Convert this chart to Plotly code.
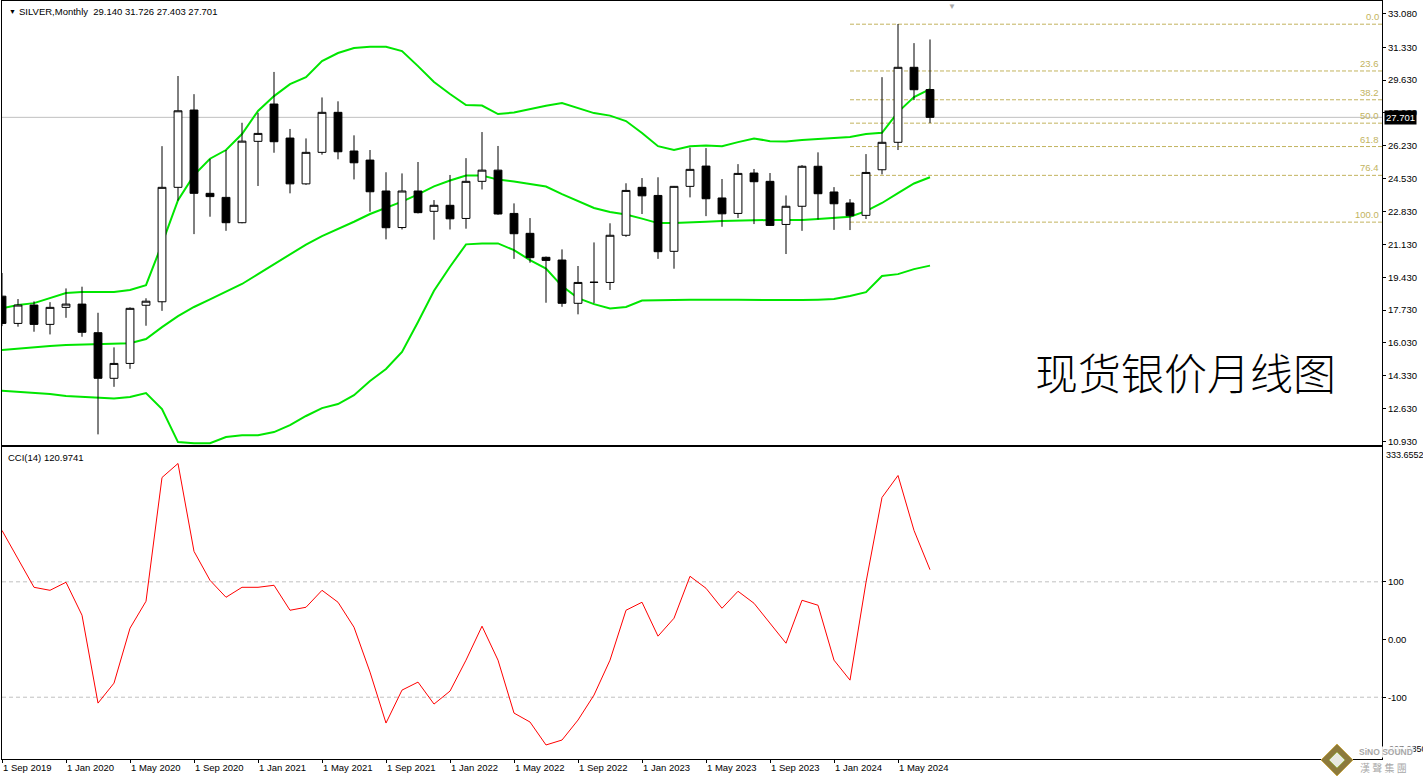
import plotly.graph_objects as go

# ---------------- data ----------------
months = ["2019-09", "2019-10", "2019-11", "2019-12",
          "2020-01", "2020-02", "2020-03", "2020-04", "2020-05", "2020-06",
          "2020-07", "2020-08", "2020-09", "2020-10", "2020-11", "2020-12",
          "2021-01", "2021-02", "2021-03", "2021-04", "2021-05", "2021-06",
          "2021-07", "2021-08", "2021-09", "2021-10", "2021-11", "2021-12",
          "2022-01", "2022-02", "2022-03", "2022-04", "2022-05", "2022-06",
          "2022-07", "2022-08", "2022-09", "2022-10", "2022-11", "2022-12",
          "2023-01", "2023-02", "2023-03", "2023-04", "2023-05", "2023-06",
          "2023-07", "2023-08", "2023-09", "2023-10", "2023-11", "2023-12",
          "2024-01", "2024-02", "2024-03", "2024-04", "2024-05", "2024-06",
          "2024-07"]

open_ = [18.45, 17.04, 17.99, 16.99, 17.87, 18.04, 16.56, 14.20, 14.97, 17.98,
         18.16, 24.08, 28.08, 23.77, 23.56, 22.25, 26.46, 28.39, 26.63, 24.26,
         25.89, 27.96, 25.96, 25.49, 23.89, 22.00, 23.89, 22.84, 23.15, 22.47,
         24.39, 24.97, 22.73, 21.70, 20.46, 20.32, 18.08, 19.16, 19.16, 21.60,
         24.08, 23.66, 20.77, 24.13, 25.18, 23.53, 22.73, 24.82, 24.39, 22.16,
         23.10, 25.17, 23.84, 23.27, 22.63, 24.99, 26.41, 30.29, 29.14]
high = [19.65, 18.30, 18.18, 18.14, 18.85, 18.94, 17.59, 15.80, 17.87, 18.34,
        26.21, 29.84, 28.90, 25.54, 26.01, 27.42, 27.94, 30.05, 27.10, 26.61,
        28.73, 28.53, 26.77, 26.01, 24.86, 24.80, 25.39, 23.42, 24.72, 25.59,
        26.94, 26.22, 23.25, 22.49, 20.50, 20.87, 20.01, 21.23, 22.22, 24.29,
        24.56, 24.60, 24.15, 26.13, 26.11, 24.51, 25.28, 25.03, 24.82, 23.66,
        25.23, 25.89, 24.09, 23.47, 25.80, 29.78, 32.53, 31.54, 31.73]
low = [16.90, 16.87, 16.61, 16.47, 17.33, 16.35, 11.30, 13.76, 14.69, 16.92,
       17.69, 23.39, 21.66, 22.56, 21.83, 22.22, 24.15, 25.87, 23.77, 24.21,
       25.77, 25.53, 24.49, 22.82, 21.39, 21.90, 22.73, 21.37, 21.90, 21.94,
       23.97, 22.66, 20.38, 20.18, 18.11, 17.90, 17.51, 18.08, 18.77, 21.52,
       22.70, 20.38, 19.87, 23.56, 22.59, 22.04, 22.49, 22.18, 22.08, 20.63,
       21.83, 22.42, 21.88, 21.87, 22.44, 24.75, 26.01, 28.60, 27.40]
close = [17.04, 17.99, 16.99, 17.87, 18.04, 16.58, 14.20, 14.97, 17.82, 18.19,
         24.08, 28.04, 23.77, 23.60, 22.25, 26.47, 26.87, 26.44, 24.26, 25.89,
         27.96, 25.92, 25.35, 23.85, 21.99, 23.89, 22.77, 23.15, 22.45, 24.39,
         24.97, 22.70, 21.68, 20.44, 20.30, 18.08, 19.16, 19.17, 21.60, 23.92,
         23.64, 20.75, 24.13, 25.01, 23.49, 22.71, 24.80, 24.37, 22.11, 23.10,
         25.17, 23.75, 23.23, 22.61, 24.85, 26.41, 30.29, 29.13, 27.70]

bb_upper = [17.83, 17.99, 18.09, 18.35, 18.61, 18.66, 18.66, 18.66, 18.77, 19.02,
            21.15, 23.42, 24.71, 25.56, 26.01, 26.84, 28.03, 28.80, 29.42, 29.78,
            30.61, 31.03, 31.29, 31.35, 31.35, 31.13, 30.35, 29.53, 28.91, 28.34,
            28.31, 27.87, 27.95, 28.13, 28.30, 28.44, 28.18, 27.92, 27.79, 27.51,
            26.89, 26.21, 26.01, 26.21, 26.24, 26.21, 26.42, 26.61, 26.47, 26.45,
            26.53, 26.58, 26.65, 26.68, 26.84, 26.90, 27.97, 28.75, 29.16]
bb_middle = [15.66, 15.74, 15.82, 15.87, 15.92, 15.94, 15.97, 15.99, 16.01, 16.23,
             16.85, 17.42, 17.89, 18.28, 18.67, 19.08, 19.59, 20.11, 20.61, 21.12,
             21.56, 21.92, 22.30, 22.70, 23.01, 23.34, 23.72, 24.13, 24.43, 24.69,
             24.69, 24.48, 24.38, 24.25, 24.12, 23.73, 23.37, 23.01, 22.80, 22.67,
             22.46, 22.23, 22.23, 22.28, 22.30, 22.34, 22.36, 22.39, 22.39, 22.39,
             22.39, 22.44, 22.49, 22.56, 22.85, 23.27, 23.78, 24.28, 24.60]
bb_lower = [13.56, 13.51, 13.44, 13.39, 13.28, 13.23, 13.18, 13.15, 13.23, 13.44,
            12.61, 10.90, 10.84, 10.84, 11.16, 11.26, 11.26, 11.42, 11.78, 12.25,
            12.66, 12.87, 13.33, 14.06, 14.68, 15.56, 17.11, 18.73, 19.97, 21.13,
            21.17, 21.18, 20.83, 20.32, 19.88, 18.97, 18.35, 18.04, 17.81, 17.89,
            18.22, 18.25, 18.25, 18.27, 18.28, 18.27, 18.26, 18.25, 18.25, 18.25,
            18.25, 18.27, 18.30, 18.46, 18.66, 19.49, 19.59, 19.85, 20.03]

cci = [189.1, 140.7, 90.5, 85.3, 99.2, 42.1, -110.2, -75.6, 19.6, 66.3,
       280.8, 305.1, 152.8, 102.6, 73.2, 90.5, 90.5, 94.0, 50.7, 55.9,
       85.3, 64.6, 21.3, -56.5, -144.8, -87.7, -73.8, -111.9, -89.4, -35.8,
       23.1, -35.8, -127.5, -143.0, -182.8, -174.2, -139.6, -96.3, -35.8, 50.7,
       64.6, 5.8, 36.9, 109.6, 88.8, 54.2, 83.6, 62.8, 28.2, -6.4,
       68.0, 59.4, -35.8, -70.4, 99.2, 246.2, 284.3, 189.1, 120.97]

price_ticks = [33.08, 31.33, 29.63, 27.93, 26.23, 24.53, 22.83, 21.13,
               19.43, 17.73, 16.03, 14.33, 12.63, 10.93]
cci_ticks = [100, 0, -100]
cci_tick_text = ["100", "0.00", "-100"]

tick_months = ["2019-09", "2020-01", "2020-05", "2020-09", "2021-01", "2021-05",
               "2021-09", "2022-01", "2022-05", "2022-09", "2023-01", "2023-05",
               "2023-09", "2024-01", "2024-05"]
tick_labels = ["1 Sep 2019", "1 Jan 2020", "1 May 2020", "1 Sep 2020",
               "1 Jan 2021", "1 May 2021", "1 Sep 2021", "1 Jan 2022",
               "1 May 2022", "1 Sep 2022", "1 Jan 2023", "1 May 2023",
               "1 Sep 2023", "1 Jan 2024", "1 May 2024"]

fib_levels = ["0.0", "23.6", "38.2", "50.0", "61.8", "76.4", "100.0"]
fib_prices = [32.52, 30.10, 28.61, 27.40, 26.19, 24.70, 22.28]
fib_start_month = "2024-02"

last_price = 27.701
header = "SILVER,Monthly\u00a0\u00a029.140 31.726 27.403 27.701"
cci_label = "CCI(14) 120.9741"
cci_max_label = "333.6552"
cci_min_label = "-207.0850"
title_cn = "现货银价月线图"

price_range = [10.75, 33.72]
cci_range = [-207.1, 333.66]
x_range = [0, 86.25]

FONT = "Liberation Sans, Arial, sans-serif"
GREEN = "#00E600"
FIBC = "#C2B35E"

# ---------------- figure ----------------
fig = go.Figure()

for band in (bb_upper, bb_middle, bb_lower):
    fig.add_trace(go.Scatter(x=months, y=band, mode="lines",
                             line=dict(color=GREEN, width=2),
                             xaxis="x", yaxis="y", hoverinfo="skip"))

fig.add_trace(go.Candlestick(
    x=months, open=open_, high=high, low=low, close=close,
    xaxis="x", yaxis="y3", whiskerwidth=0,
    increasing=dict(fillcolor="white", line=dict(color="black", width=1)),
    decreasing=dict(fillcolor="black", line=dict(color="black", width=1)),
    hoverinfo="skip"))

fig.add_trace(go.Scatter(x=months, y=cci, mode="lines",
                         line=dict(color="#FF0000", width=1),
                         xaxis="x2", yaxis="y2", hoverinfo="skip"))

shapes = []
# last price line
shapes.append(dict(type="line", xref="paper", x0=0, x1=1, yref="y",
                   y0=last_price, y1=last_price,
                   line=dict(color="#C0C0C0", width=1), layer="below"))
# fibonacci levels
fib_x0 = months.index(fib_start_month)
for p in fib_prices:
    shapes.append(dict(type="line", xref="x", x0=fib_x0, x1=x_range[1],
                       yref="y", y0=p, y1=p,
                       line=dict(color=FIBC, width=1, dash="4px,2px"),
                       layer="below"))
# cci levels
for lv in (100, -100):
    shapes.append(dict(type="line", xref="paper", x0=0, x1=1, yref="y2",
                       y0=lv, y1=lv,
                       line=dict(color="#C0C0C0", width=1, dash="4px,3px"),
                       layer="below"))
# logo diamond
shapes.append(dict(type="path", xref="paper", yref="paper",
                   path="M 0.95580,-0.00132 L 0.96739,0.01979 L 0.97898,-0.00132 L 0.96739,-0.02243 Z",
                   fillcolor="#8C7A3C", line=dict(color="#C9A84A", width=1)))
shapes.append(dict(type="path", xref="paper", yref="paper",
                   path="M 0.96159,-0.00132 L 0.96739,0.00923 L 0.97319,-0.00132 L 0.96739,-0.01187 Z",
                   fillcolor="#E8E8E0", line=dict(color="#9CB050", width=1)))

annotations = []
annotations.append(dict(xref="paper", yref="paper", x=0.0036, y=1.0, xanchor="left",
                        yanchor="top", yshift=-5, text="▼", showarrow=False,
                        font=dict(family=FONT, size=7, color="black")))
annotations.append(dict(xref="paper", yref="paper", x=0.0109, y=1.0, xanchor="left",
                        yanchor="top", yshift=-3, text=header, showarrow=False,
                        font=dict(family=FONT, size=9.5, color="black")))
annotations.append(dict(xref="paper", yref="y2 domain", x=0.0029, y=1.0,
                        xanchor="left", yanchor="top", yshift=-3, text=cci_label,
                        showarrow=False,
                        font=dict(family=FONT, size=9.5, color="black")))
annotations.append(dict(xref="paper", yref="y2 domain", x=1.0, y=1.0, xshift=2,
                        xanchor="left", yanchor="top", yshift=-1, text=cci_max_label,
                        showarrow=False,
                        font=dict(family=FONT, size=9, color="black")))
annotations.append(dict(xref="paper", yref="y2 domain", x=1.0, y=0.0, xshift=2,
                        xanchor="left", yanchor="bottom", yshift=3, text=cci_min_label,
                        showarrow=False,
                        font=dict(family=FONT, size=9, color="black")))
annotations.append(dict(xref="paper", yref="y", x=1.0, y=last_price, xshift=2,
                        xanchor="left", yanchor="middle", text=f"{last_price:.3f}",
                        showarrow=False, bgcolor="black", borderpad=1,
                        font=dict(family=FONT, size=9.5, color="white")))
for lvl, p in zip(fib_levels, fib_prices):
    annotations.append(dict(xref="paper", yref="y", x=1.0, y=p, xshift=-1,
                            xanchor="right", yanchor="bottom", yshift=0, text=lvl,
                            showarrow=False,
                            font=dict(family=FONT, size=9.5, color=FIBC)))
annotations.append(dict(xref="paper", yref="paper", x=0.7471, y=0.5120,
                        xanchor="left", yanchor="middle", text=title_cn,
                        showarrow=False,
                        font=dict(family="Noto Sans CJK SC", size=43,
                                  color="black", weight=300)))
annotations.append(dict(xref="paper", yref="paper", x=0.6884, y=1.0,
                        xanchor="center", yanchor="top", yshift=1, text="▼",
                        showarrow=False,
                        font=dict(family=FONT, size=8, color="#A8A8A8")))
annotations.append(dict(xref="paper", yref="paper", x=0.9825, y=0.0092,
                        xanchor="left", yanchor="middle", text="<b>SiNO SOUND</b>",
                        showarrow=False, bgcolor="rgba(255,255,255,0.9)", borderpad=0,
                        font=dict(family=FONT, size=8.5, color="#A8A8A8")))
annotations.append(dict(xref="paper", yref="paper", x=0.9825, y=-0.0106,
                        xanchor="left", yanchor="middle", text="漢 聲 集 團",
                        showarrow=False,
                        font=dict(family="Noto Sans CJK TC", size=10, color="#A8A8A8")))

axis_common = dict(showline=True, mirror=True, linecolor="black", linewidth=1,
                   showgrid=False, zeroline=False)

fig.update_layout(
    width=1423, height=780, autosize=False,
    margin=dict(l=2, r=41, t=1, b=21),
    paper_bgcolor="white", plot_bgcolor="white",
    showlegend=False, hovermode=False,
    font=dict(family=FONT, size=9.5, color="black"),
    xaxis=dict(anchor="y", domain=[0, 1], type="category",
               categoryorder="array", categoryarray=months,
               range=x_range, showticklabels=False, ticks="",
               rangeslider=dict(visible=False), **axis_common),
    xaxis2=dict(anchor="y2", domain=[0, 1], type="category",
                categoryorder="array", categoryarray=months,
                matches="x", range=x_range,
                tickmode="array", tickvals=tick_months, ticktext=tick_labels,
                ticks="outside", ticklen=3, tickcolor="black",
                ticklabelposition="outside right",
                tickfont=dict(family=FONT, size=9.5, color="black"),
                **axis_common),
    yaxis=dict(domain=[0.41425, 1], anchor="x", side="right", range=price_range,
               tickmode="array", tickvals=price_ticks,
               ticktext=[f"{v:.3f}" for v in price_ticks],
               ticks="outside", ticklen=3, tickcolor="black",
               tickfont=dict(family=FONT, size=9.5, color="black"),
               **axis_common),
    yaxis3=dict(overlaying="y", anchor="x", side="right", range=price_range,
                visible=False),
    yaxis2=dict(domain=[0, 0.4116], anchor="x2", side="right", range=cci_range,
                tickmode="array", tickvals=cci_ticks, ticktext=cci_tick_text,
                ticks="outside", ticklen=3, tickcolor="black",
                tickfont=dict(family=FONT, size=9.5, color="black"),
                **axis_common),
    shapes=shapes,
    annotations=annotations,
)

fig.write_html("out.html",
               config={"displayModeBar": False, "staticPlot": True},
               post_script="document.body.style.margin='0';document.body.style.overflow='hidden';")
